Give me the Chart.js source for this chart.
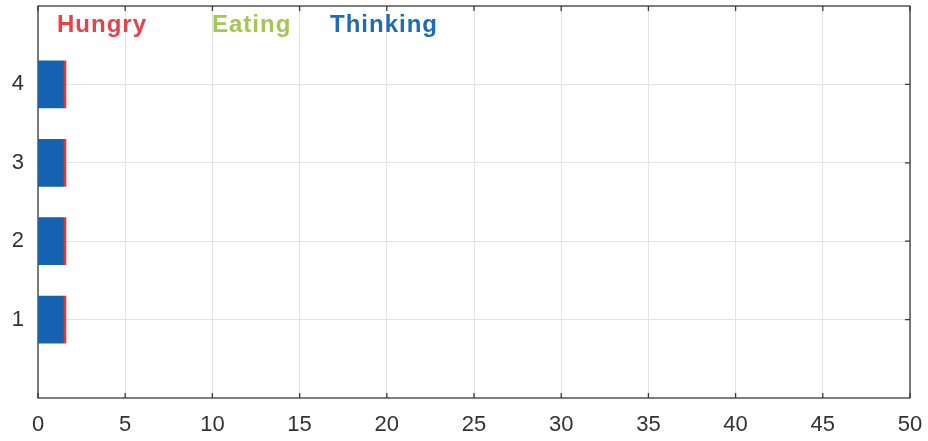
<!DOCTYPE html>
<html>
<head>
<meta charset="utf-8">
<script src="https://cdn.jsdelivr.net/npm/chart.js@4.4.1/dist/chart.umd.min.js"></script>
<style>
  html, body { margin: 0; padding: 0; background: #fff; }
  #wrap { width: 928px; height: 441px; }
</style>
</head>
<body>
<div id="wrap"><canvas id="chart"></canvas></div>
<script>
// philosophers 1..4, time spent in each state
const philosophers = [1, 2, 3, 4];
const thinking = [1.45, 1.45, 1.45, 1.45];
const hungry = [0.15, 0.15, 0.15, 0.15];
const eating = [0, 0, 0, 0];
const xTicks = [0, 5, 10, 15, 20, 25, 30, 35, 40, 45, 50];

const toPoints = vals => vals.map((v, i) => ({ x: v, y: philosophers[i] }));

// MATLAB-style box with inward ticks (under the bars), legend words on top
const boxPlugin = {
  id: "boxPlugin",
  beforeDatasetsDraw(chart) {
    const { ctx, chartArea: a, scales } = chart;
    ctx.save();
    ctx.strokeStyle = "#3a3a3a";
    ctx.lineWidth = 1.3;
    ctx.beginPath();
    xTicks.forEach(t => {
      const px = scales.x.getPixelForValue(t);
      ctx.moveTo(px, a.bottom); ctx.lineTo(px, a.bottom - 5);
      ctx.moveTo(px, a.top); ctx.lineTo(px, a.top + 5);
    });
    philosophers.forEach(t => {
      const py = scales.y.getPixelForValue(t);
      ctx.moveTo(a.left, py); ctx.lineTo(a.left + 5, py);
      ctx.moveTo(a.right, py); ctx.lineTo(a.right - 5, py);
    });
    ctx.stroke();
    ctx.strokeRect(a.left, a.top, a.right - a.left, a.bottom - a.top);
    ctx.restore();
  },
  afterDraw(chart) {
    const { ctx } = chart;
    const legendX = [57, 212, 330];
    const order = ["Hungry", "Eating", "Thinking"];
    ctx.save();
    ctx.font = "bold 24px 'Liberation Sans', Arial, sans-serif";
    ctx.letterSpacing = "1px";
    ctx.textBaseline = "middle";
    order.forEach((name, i) => {
      const ds = chart.data.datasets.find(d => d.label === name);
      ctx.fillStyle = ds.textColor;
      ctx.fillText(name, legendX[i], 25);
    });
    ctx.restore();
  }
};

const tickFont = { size: 22, family: "'Liberation Sans', Arial, sans-serif" };

new Chart(document.getElementById("chart"), {
  type: "bar",
  data: {
    datasets: [
      { label: "Thinking", data: toPoints(thinking), backgroundColor: "#1562b1", textColor: "#1f6bb6" },
      { label: "Hungry", data: toPoints(hungry), backgroundColor: "#e8323e", textColor: "#e9404a" },
      { label: "Eating", data: toPoints(eating), backgroundColor: "#9fc54c", textColor: "#a3c752" }
    ]
  },
  options: {
    indexAxis: "y",
    responsive: true,
    maintainAspectRatio: false,
    animation: false,
    layout: { autoPadding: false, padding: { top: 6, right: 18, left: 0, bottom: 0 } },
    datasets: { bar: { barThickness: 47, borderWidth: 0 } },
    plugins: { legend: { display: false }, tooltip: { enabled: false } },
    scales: {
      x: {
        type: "linear",
        stacked: true,
        min: 0,
        max: 50,
        afterBuildTicks: s => { s.ticks = xTicks.map(v => ({ value: v })); },
        afterFit: s => { s.height = 43; s.paddingLeft = 0; s.paddingRight = 0; },
        grid: { color: "#e3e3e3", lineWidth: 1, drawTicks: false },
        border: { display: false },
        ticks: { color: "#333", padding: 14, font: tickFont }
      },
      y: {
        type: "linear",
        stacked: true,
        offset: false,
        min: 0,
        max: 5,
        afterBuildTicks: s => { s.ticks = philosophers.map(v => ({ value: v })); },
        afterFit: s => { s.width = 38; s.paddingTop = 0; s.paddingBottom = 0; },
        grid: { color: "#e3e3e3", lineWidth: 1, drawTicks: false, offset: false },
        border: { display: false },
        ticks: { color: "#333", padding: 14, font: tickFont }
      }
    }
  },
  plugins: [boxPlugin]
});
</script>
</body>
</html>
